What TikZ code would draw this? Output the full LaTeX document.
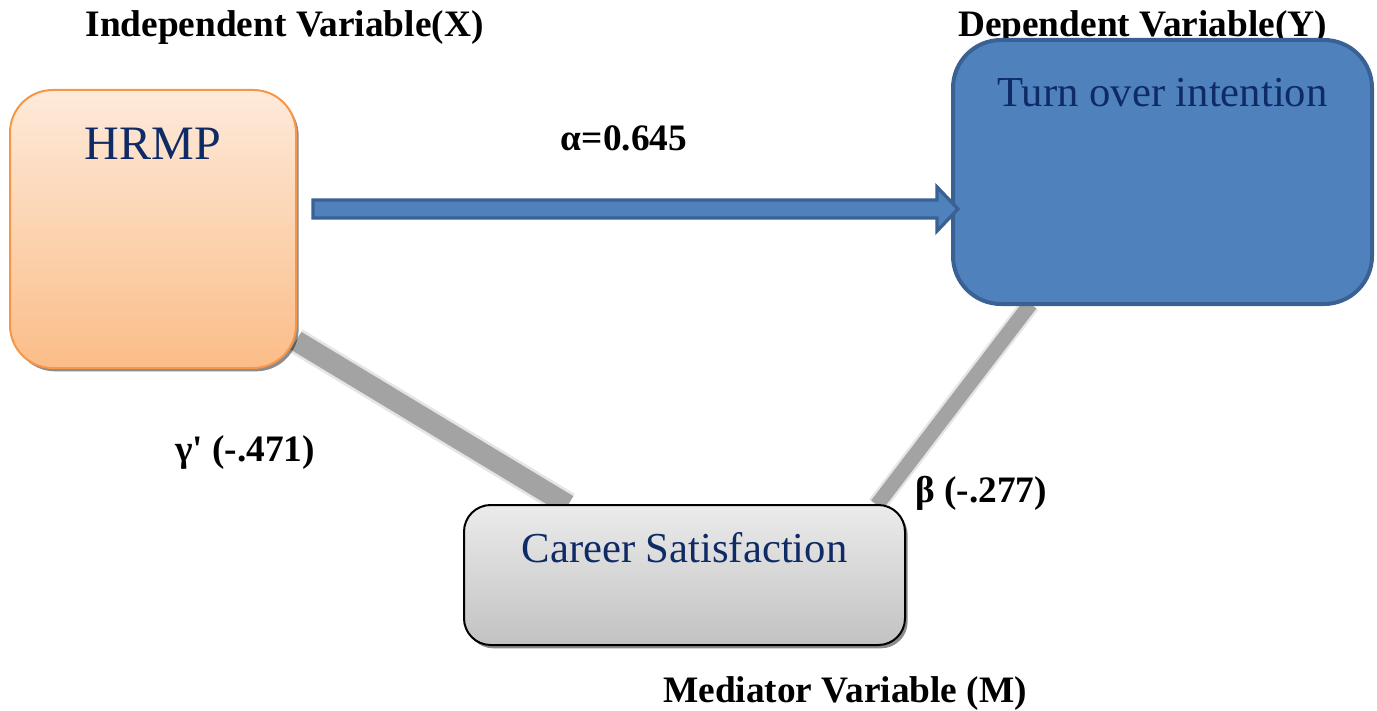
\documentclass[tikz,border=0pt]{standalone}
\usepackage{fontspec}
\setmainfont{Liberation Serif}
\usetikzlibrary{calc,shadows}
\definecolor{navy}{HTML}{0F2B66}
\definecolor{orangeB}{HTML}{F79646}
\definecolor{orangeT}{HTML}{FDEADA}
\definecolor{orangeBot}{HTML}{FBBD88}
\definecolor{blueF}{HTML}{4F81BD}
\definecolor{blueD}{HTML}{3A6194}
\definecolor{greyL}{HTML}{A3A3A3}
\definecolor{greyH}{HTML}{DEDEDE}
\definecolor{silverT}{HTML}{EBEBEB}
\definecolor{silverB}{HTML}{C2C2C2}
\pgfdeclarelayer{bg}
\pgfsetlayers{bg,main}
\begin{document}
\begin{tikzpicture}[x=0.75pt,y=-0.75pt,
  lbl/.style={font=\fontsize{28}{32}\selectfont\bfseries, anchor=base, inner sep=0},
  box/.style={inner sep=0, outer sep=0, text=navy},
  hrmpbox/.style={box, draw=orangeB, line width=1.5pt, rounded corners=32pt,
     top color=orangeT, bottom color=orangeBot,
     drop shadow={shadow xshift=2pt, shadow yshift=-2.5pt, fill=black, opacity=0.45}},
  toibox/.style={box, draw=blueD, fill=blueF, line width=3pt, rounded corners=36pt},
  csbox/.style={box, draw=black, line width=1.5pt, rounded corners=20pt,
     top color=silverT, bottom color=silverB,
     drop shadow={shadow xshift=2pt, shadow yshift=-2.5pt, fill=black, opacity=0.45}},
  halo/.style={draw=greyH, opacity=0.8},
  conn/.style={draw=greyL},
  blockarrow/.style={fill=blueF, draw=blueD, line width=2.5pt, line join=miter}
]
\useasboundingbox (0,0) rectangle (1377,710);

% boxes
\node[hrmpbox] (hrmp) at (153,229)
  {\parbox[c][208.5pt][t]{214.5pt}{\centering\fontsize{36}{40}\selectfont\rule{0pt}{51.75pt}HRMP}};
\node[toibox] (toi) at (1162.5,172)
  {\parbox[c][198pt][t]{314.25pt}{\centering\fontsize{32}{38}\selectfont\rule{0pt}{49.5pt}Turn over intention}};
\node[csbox] (cs) at (684.5,575)
  {\parbox[c][105pt][t]{330.75pt}{\centering\fontsize{32}{38}\selectfont\rule{0pt}{42.75pt}Career Satisfaction}};

% grey connectors and top-right label behind boxes
\begin{pgfonlayer}{bg}
  \node[lbl] (ylab) at (1142.5,37) {Dependent Variable(Y)};
  \draw[halo, line width=19.5pt] (hrmp.-38) -- (cs.149);
  \draw[conn, line width=15.5pt] (hrmp.-38) -- (cs.149);
  \draw[halo, line width=14.5pt] (toi.225) -- (cs.20.7);
  \draw[conn, line width=11pt] (toi.225) -- (cs.20.7);
\end{pgfonlayer}

% block arrow HRMP -> Turn over intention
\coordinate (as) at ($(hrmp.east)+(17,-20)$);
\coordinate (ae) at ($(toi.west)+(5,37)$);
\draw[blockarrow] ($(as)+(0,-9)$) -- ($(ae)+(-21,-9)$) -- ($(ae)+(-21,-22)$) -- (ae)
  -- ($(ae)+(-21,22)$) -- ($(ae)+(-21,9)$) -- ($(as)+(0,9)$) -- cycle;

% labels
\node[lbl] (xlab) at (284.5,37) {Independent Variable(X)};
\node[lbl] (alab) at (624,150) {α=0.645};
\node[lbl] (glab) at (245,461) {γ\textquotesingle{} (-.471)};
\node[lbl] (blab) at (981,502) {β (-.277)};
\node[lbl] (mlab) at (845,702) {Mediator Variable (M)};
\end{tikzpicture}
\end{document}
